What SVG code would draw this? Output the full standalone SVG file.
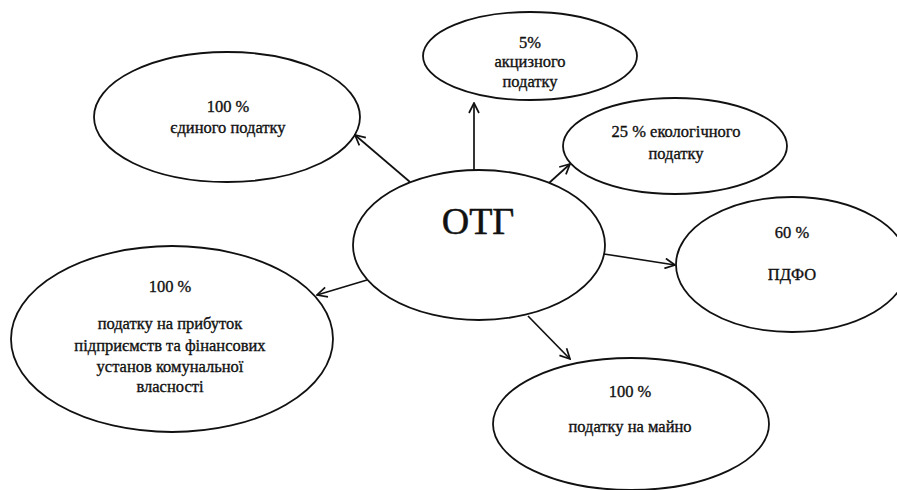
<svg xmlns="http://www.w3.org/2000/svg" width="897" height="490" viewBox="0 0 897 490">
<defs>
<style>
.node ellipse{fill:none;stroke:#111;stroke-width:1.8}
.t{font-family:"Liberation Serif","Times New Roman",serif;font-size:16.5px;fill:#111;stroke:#111;stroke-width:0.35;text-anchor:middle}
.big{font-family:"Liberation Serif","Times New Roman",serif;font-size:38px;fill:#111;stroke:#111;stroke-width:0.5;text-anchor:middle}
.conn line{stroke:#111;stroke-width:1.7;marker-end:url(#arr)}
</style>
<marker id="arr" viewBox="0 0 12 12" refX="11" refY="6" markerWidth="12" markerHeight="12" markerUnits="userSpaceOnUse" orient="auto">
<path d="M1,1 L11,6 L1,11" fill="none" stroke="#111" stroke-width="1.7"/>
</marker>
</defs>
<rect width="897" height="490" fill="#fff"/>
<g class="conn" id="connectors">
<line x1="410" y1="182" x2="355" y2="135"/>
<line x1="474" y1="170" x2="474" y2="103"/>
<line x1="549" y1="183" x2="570" y2="164"/>
<line x1="604" y1="254" x2="675" y2="265"/>
<line x1="528" y1="316" x2="570" y2="359"/>
<line x1="367" y1="280" x2="317" y2="295"/>
</g>
<g class="node" id="otg">
<ellipse cx="479" cy="245" rx="126" ry="75"/>
<text class="big" x="478" y="234">ОТГ</text>
</g>
<g class="node" id="yedynyi">
<ellipse cx="227" cy="117" rx="133" ry="65"/>
<text class="t" x="228" y="112">100 %</text>
<text class="t" x="228" y="133">єдиного податку</text>
</g>
<g class="node" id="aktsyz">
<ellipse cx="530" cy="56" rx="107" ry="44"/>
<text class="t" x="530" y="48">5%</text>
<text class="t" x="530" y="67">акцизного</text>
<text class="t" x="530" y="87">податку</text>
</g>
<g class="node" id="ekolog">
<ellipse cx="675" cy="146" rx="112" ry="48"/>
<text class="t" x="676" y="137">25 % екологічного</text>
<text class="t" x="676" y="159">податку</text>
</g>
<g class="node" id="pdfo">
<ellipse cx="792" cy="264.5" rx="116" ry="67.5"/>
<text class="t" x="792" y="238">60 %</text>
<text class="t" x="792" y="280">ПДФО</text>
</g>
<g class="node" id="prybutok">
<ellipse cx="172" cy="339" rx="161" ry="93"/>
<text class="t" x="170" y="292">100 %</text>
<text class="t" x="170" y="329">податку на прибуток</text>
<text class="t" x="170" y="351">підприємств та фінансових</text>
<text class="t" x="170" y="372">установ комунальної</text>
<text class="t" x="170" y="392">власності</text>
</g>
<g class="node" id="mayno">
<ellipse cx="631" cy="424" rx="138" ry="66"/>
<text class="t" x="630" y="397">100 %</text>
<text class="t" x="630" y="432">податку на майно</text>
</g>
</svg>
